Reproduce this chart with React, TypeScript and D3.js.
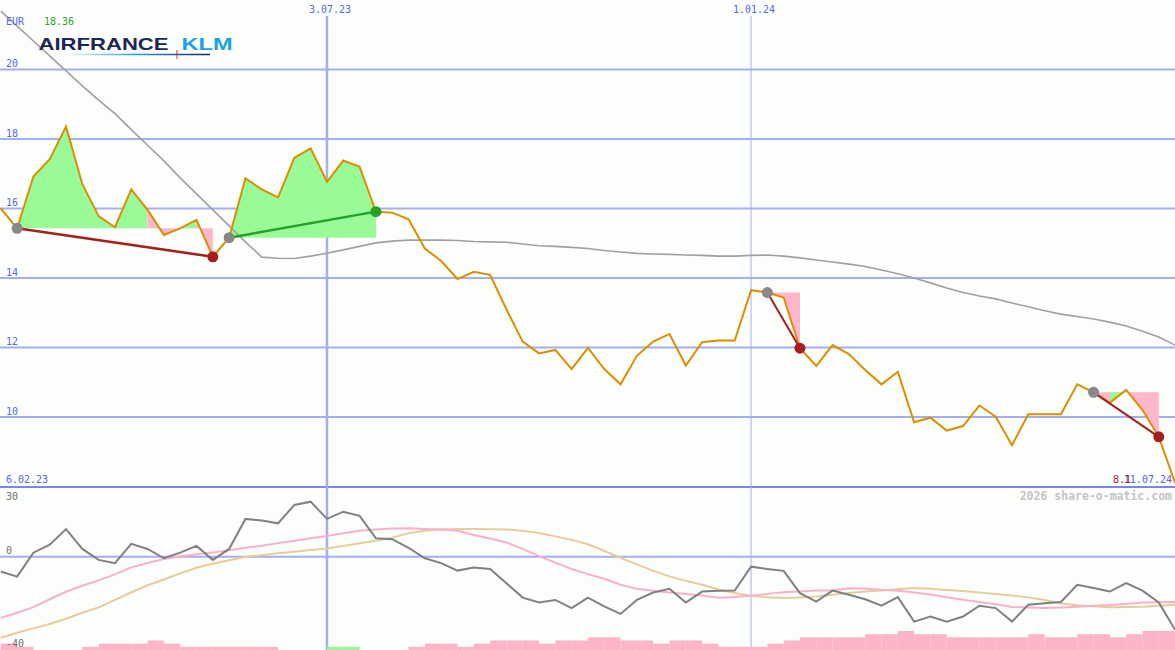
import * as d3 from "d3"

const W = 1175
const H = 650

// weekly closes, EUR (13.02.23 .. 1.07.24)
const price = [
  16.0, 15.43, 16.92, 17.42, 18.36, 16.7, 15.78, 15.46, 16.55, 15.96,
  15.24, 15.43, 15.67, 14.61, 15.16, 16.87, 16.55, 16.32, 17.46, 17.73,
  16.77, 17.38, 17.2, 15.91, 15.88, 15.69, 14.85, 14.49, 13.97, 14.18,
  14.09, 13.1, 12.17, 11.83, 11.93, 11.38, 11.99, 11.38, 10.94, 11.76,
  12.17, 12.39, 11.48, 12.15, 12.2, 12.2, 13.65, 13.58, 13.44, 11.98,
  11.47, 12.07, 11.81, 11.35, 10.94, 11.3, 9.85, 9.98, 9.61, 9.74,
  10.33, 10.01, 9.19, 10.08, 10.08, 10.08, 10.94, 10.71, 10.41, 10.78,
  10.2, 9.43, 8.1,
]

// long moving average
const movingAvg = [
  21.68, 21.25, 20.82, 20.39, 19.96, 19.53, 19.12, 18.73, 18.27, 17.82,
  17.37, 16.88, 16.42, 15.96, 15.5, 15.04, 14.6, 14.57, 14.56, 14.63,
  14.71, 14.81, 14.91, 15.01, 15.06, 15.09, 15.09, 15.09, 15.08, 15.05,
  15.04, 15.03, 14.98, 14.93, 14.91, 14.88, 14.85, 14.79, 14.75, 14.71,
  14.69, 14.68, 14.66, 14.65, 14.63, 14.63, 14.65, 14.66, 14.63, 14.58,
  14.52, 14.46, 14.4, 14.33, 14.23, 14.12, 14.0, 13.86, 13.71, 13.58,
  13.48, 13.4, 13.28, 13.17, 13.06, 12.96, 12.89, 12.82, 12.73, 12.62,
  12.47, 12.3, 12.07,
]

// lower panel: oscillator and its two smoothings
const momentum = [
  -6.3, -8.5, 1.8, 5.2, 11.9, 3.4, -1.3, -2.7, 5.6, 3.4,
  -0.6, 1.8, 4.7, -1.3, 3.4, 16.3, 15.6, 14.4, 22.3, 23.7,
  16.3, 19.4, 17.6, 8.0, 7.6, 3.9, -0.6, -2.7, -5.9, -4.6,
  -5.2, -11.3, -17.5, -19.6, -18.5, -22.0, -17.5, -21.3, -24.5, -18.5,
  -15.3, -13.7, -19.6, -14.9, -14.6, -14.5, -4.2, -5.2, -6.0, -15.6,
  -19.2, -14.5, -16.3, -18.2, -21.0, -17.3, -27.8, -25.6, -27.8, -25.6,
  -21.0, -22.0, -27.8, -20.6, -19.9, -19.4, -12.0, -13.4, -14.9, -11.3,
  -14.5, -19.6, -31.3,
]
const signalFast = [
  -26.2, -24.0, -21.6, -18.2, -15.0, -12.4, -10.1, -7.5, -4.5, -2.6,
  -0.9, 0.2, 1.1, 1.9, 2.8, 3.9, 4.8, 5.9, 6.9, 8.0,
  9.0, 10.1, 11.2, 11.7, 12.2, 12.3, 12.0, 11.7, 11.2, 9.4,
  7.9, 6.2, 3.4, 0.3, -2.5, -5.2, -7.4, -9.4, -12.0, -13.7,
  -14.6, -15.3, -16.0, -16.6, -17.6, -17.2, -16.7, -15.9, -15.2, -14.9,
  -14.5, -14.4, -13.5, -13.6, -14.1, -14.6, -15.3, -16.2, -17.3, -18.4,
  -19.4, -20.4, -21.5, -21.8, -22.0, -21.8, -21.4, -21.0, -20.7, -20.2,
  -19.6, -19.5, -19.4,
]
const signalSlow = [
  -34.8, -32.6, -30.7, -28.8, -26.6, -24.0, -21.7, -18.5, -15.2, -12.2,
  -9.7, -7.1, -4.7, -3.0, -1.5, 0.0, 0.7, 1.6, 2.2, 2.9,
  3.6, 4.7, 5.8, 6.9, 8.2, 10.2, 11.2, 11.7, 12.0, 12.0,
  11.9, 11.8, 11.2, 10.2, 8.8, 7.3, 5.4, 2.6, -0.4, -3.2,
  -6.0, -8.4, -10.3, -12.0, -14.0, -15.5, -16.7, -17.4, -17.7, -17.5,
  -17.0, -16.3, -15.5, -14.9, -14.4, -13.9, -13.4, -13.7, -14.2, -14.7,
  -15.3, -15.9, -16.6, -17.4, -18.5, -20.0, -20.8, -21.2, -21.6, -21.5,
  -21.4, -21.0, -20.6,
]
const volume = [
  2, 1, 0, 0, 0, 1, 2, 2, 2, 3,
  2, 1, 1, 1, 1, 1, 1, 0, 0, 0,
  1, 1, 0, 0, 0, 1, 2, 2, 1, 2,
  3, 3, 3, 2, 3, 3, 4, 4, 3, 3,
  2, 3, 3, 2, 1, 1, 1, 2, 3, 4,
  4, 4, 4, 5, 5, 6, 5, 5, 4, 4,
  4, 4, 4, 5, 4, 4, 5, 5, 4, 5,
  6, 6, 6,
]
const volumeUpWeeks = [20, 21]

const priceTicks = [10, 12, 14, 16, 18, 20]
const oscTicks = [30, 0, -40]
const dateTickIdx = [20, 46]
const dateTickLabels = ["3.07.23", "1.01.24"]

// trend signals: from / to week index
const signalFrom = [1, 14, 47, 67]
const signalTo = [13, 23, 49, 71]
const signalUp = [false, true, false, false]

// shaded zones against the level of the signal start
const zoneFrom = [1, 9, 11, 14, 47, 67, 68]
const zoneTo = [9, 13, 12, 23, 49, 71, 69]
const zoneAnchor = [1, 1, 1, 14, 47, 67, 67]
const zoneUp = [true, false, true, true, false, false, true]

const BLUE = "#5566ee"
const GRID = "#a4aef0"
const MONO = "DejaVu Sans Mono, monospace"

export default function App() {
  const x = d3.scaleLinear().domain([0, 72]).range([0.8, 1175.1])
  const y = d3.scaleLinear().domain([10, 20]).range([417, 69.5])
  const yo = d3.scaleLinear().domain([-40, 30]).range([650, 487])
  const yv = d3.scaleLinear().domain([0, 6]).range([650, 631])

  const idx = d3.range(price.length)
  const priceLine = d3.line<number>().x((i) => x(i)).y((i) => y(price[i]))
  const maLine = d3.line<number>().x((i) => x(i)).y((i) => y(movingAvg[i]))
  const oscLine = (arr: number[]) =>
    d3.line<number>().x((i) => x(i)).y((i) => yo(arr[i]))(idx) || ""

  return (
    <div style={{ position: "fixed", left: 0, top: 0, width: W, height: H }}>
      <svg width={W} height={H} style={{ display: "block" }}>
        <defs>
          <linearGradient id="swoosh" gradientUnits="userSpaceOnUse" x1={72} x2={210} y1={0} y2={0}>
            <stop offset="0" stopColor="#e2f1fa" />
            <stop offset="0.45" stopColor="#2a9fe2" />
            <stop offset="1" stopColor="#1d2654" />
          </linearGradient>
          <clipPath id="main">
            <rect x={0} y={0} width={W} height={487} />
          </clipPath>
        </defs>
        <rect width={W} height={H} fill="#fcfefc" />

        {/* price grid */}
        {priceTicks.map((t) => (
          <g key={t}>
            <line x1={0} x2={W} y1={y(t)} y2={y(t)} stroke={GRID} strokeWidth={2} />
            <text x={6} y={y(t) - 2.5} fontFamily={MONO} fontSize={10} fill={BLUE}>
              {t}
            </text>
          </g>
        ))}

        {/* oscillator grid */}
        <line x1={0} x2={W} y1={yo(0)} y2={yo(0)} stroke={GRID} strokeWidth={2} />
        <line x1={0} x2={W} y1={487} y2={487} stroke="#7a86ec" strokeWidth={2} />

        {/* date lines */}
        {dateTickIdx.map((d, k) => (
          <g key={d}>
            <line
              x1={x(d)}
              x2={x(d)}
              y1={16}
              y2={H}
              stroke={GRID}
              strokeWidth={k === 0 ? 2.5 : 1}
            />
            <text x={x(d) + 3} y={13} textAnchor="middle" fontFamily={MONO} fontSize={10} fill={BLUE}>
              {dateTickLabels[k]}
            </text>
          </g>
        ))}

        {/* volume */}
        {volume.map((v, i) =>
          v > 0 ? (
            <rect
              key={i}
              x={x(i)}
              y={yv(v)}
              width={x(i + 1) - x(i)}
              height={650 - yv(v)}
              fill={volumeUpWeeks.includes(i) ? "#98f598" : "#fbb4c8"}
            />
          ) : null,
        )}

        {/* oscillator lines */}
        <path d={oscLine(signalSlow)} fill="none" stroke="#e6cc9c" strokeWidth={2} />
        <path d={oscLine(signalFast)} fill="none" stroke="#fbb0c8" strokeWidth={2} />
        <path d={oscLine(momentum)} fill="none" stroke="#808080" strokeWidth={2} />

        {oscTicks.map((t, k) => (
          <text
            key={t}
            x={6}
            y={k === 0 ? yo(t) + 13 : yo(t) - 3}
            fontFamily={MONO}
            fontSize={10}
            fill="#707070"
          >
            {t}
          </text>
        ))}

        <g clipPath="url(#main)">
          {/* zones */}
          {zoneFrom.map((f, k) => {
            const base = y(price[zoneAnchor[k]])
            const area = d3
              .area<number>()
              .x((i) => x(i))
              .y0(base)
              .y1((i) => y(price[i]))
            return (
              <path
                key={k}
                d={area(d3.range(f, zoneTo[k] + 1)) || ""}
                fill={zoneUp[k] ? "#98fb98" : "#ffb6c8"}
              />
            )
          })}

          <path d={maLine(idx) || ""} fill="none" stroke="#a0a0a0" strokeWidth={1.6} />
          <path d={priceLine(idx) || ""} fill="none" stroke="#dc8e00" strokeWidth={2} />

          {/* signals */}
          {signalFrom.map((f, k) => (
            <line
              key={k}
              x1={x(f)}
              y1={y(price[f])}
              x2={x(signalTo[k])}
              y2={y(price[signalTo[k]])}
              stroke={signalUp[k] ? "#26a026" : "#a51f1f"}
              strokeWidth={k < 2 ? 2.5 : 2}
            />
          ))}
          {signalFrom.map((f, k) => (
            <g key={k}>
              <circle cx={x(f)} cy={y(price[f])} r={5.5} fill="#888888" />
              <circle
                cx={x(signalTo[k])}
                cy={y(price[signalTo[k]])}
                r={5.5}
                fill={signalUp[k] ? "#26a026" : "#a51f1f"}
              />
            </g>
          ))}
        </g>

        {/* header */}
        <text x={6} y={25} fontFamily={MONO} fontSize={10} fill={BLUE}>
          EUR
        </text>
        <text x={44} y={25} fontFamily={MONO} fontSize={10} fill="#2e9e2e">
          {d3.max(price)!.toFixed(2)}
        </text>
        <text
          x={38.5}
          y={49.5}
          fontFamily="Liberation Sans, Arial, sans-serif"
          fontWeight={700}
          fontSize={17}
          fill="#1d2654"
          textLength={130}
          lengthAdjust="spacingAndGlyphs"
        >
          AIRFRANCE
        </text>
        <text
          x={181.5}
          y={49.5}
          fontFamily="Liberation Sans, Arial, sans-serif"
          fontWeight={700}
          fontSize={17}
          fill="#1ca2e2"
          textLength={51}
          lengthAdjust="spacingAndGlyphs"
        >
          KLM
        </text>
        <line x1={72} x2={210} y1={54.5} y2={54.5} stroke="url(#swoosh)" strokeWidth={1.5} />
        <line x1={177} x2={177} y1={50} y2={59} stroke="#e0304a" strokeWidth={1} />

        {/* footer labels */}
        <text x={6} y={483} fontFamily={MONO} fontSize={10} fill={BLUE}>
          6.02.23
        </text>
        <text x={1172} y={483} textAnchor="end" fontFamily={MONO} fontSize={10} fill={BLUE}>
          11.07.24
        </text>
        <text x={1131} y={483} textAnchor="end" fontFamily={MONO} fontSize={10} fill="#a51f1f">
          {price[price.length - 1].toFixed(1)}
        </text>
        <text
          x={1172}
          y={500}
          textAnchor="end"
          fontFamily={MONO}
          fontSize={11.5}
          fontWeight={700}
          fill="#c4c4c4"
        >
          2026 share-o-matic.com
        </text>
      </svg>
    </div>
  )
}
